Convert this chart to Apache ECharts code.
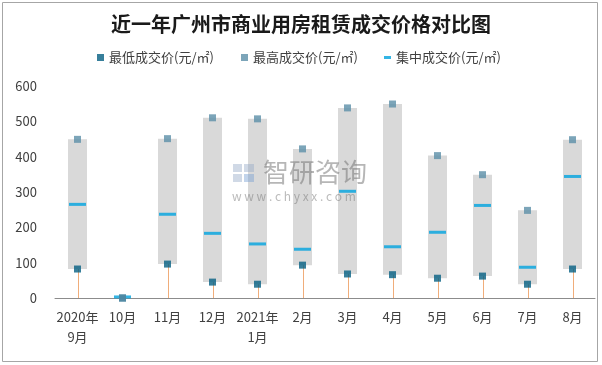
<!DOCTYPE html>
<html>
<head>
<meta charset="utf-8">
<script src="https://cdn.jsdelivr.net/npm/echarts@6/dist/echarts.min.js"></script>
<style>
html,body{margin:0;padding:0;background:#fff;}
#chart{width:602px;height:365px;}
</style>
</head>
<body>
<div id="chart"></div>
<script>
// ---- data ----
var categories = ['2020年\n9月','10月','11月','12月','2021年\n1月','2月','3月','4月','5月','6月','7月','8月'];
var lowPrice  = [82, 0, 96, 45, 39, 93, 68, 66, 56, 62, 39, 82];
var highPrice = [449, 0, 451, 510, 507, 422, 538, 549, 403, 349, 248, 448];
var midPrice  = [265, 3, 237, 183, 153, 138, 302, 145, 186, 262, 87, 344];
var yTicks = [0, 100, 200, 300, 400, 500, 600];

var nameLow = '最低成交价(元/㎡)';
var nameHigh = '最高成交价(元/㎡)';
var nameMid = '集中成交价(元/㎡)';

var rangeData = highPrice.map(function (h, i) { return h - lowPrice[i]; });
var dropData = lowPrice.map(function (v, i) { return [i, v]; });

var font = '"Noto Sans CJK SC", "Noto Sans", sans-serif';
var chart = echarts.init(document.getElementById('chart'), null, {renderer: 'canvas'});

var option = {
  backgroundColor: '#ffffff',
  animation: false,
  title: {
    text: '近一年广州市商业用房租赁成交价格对比图',
    left: 'center', top: 14, padding: 0,
    textStyle: {fontFamily: font, fontSize: 20, fontWeight: 'bold', color: '#1a1a1a'}
  },
  legend: [
    {data: [nameLow], left: 97, top: 51, padding: 0, itemWidth: 7, itemHeight: 7, icon: 'rect',
     textStyle: {fontFamily: font, fontSize: 13, color: '#404040'}},
    {data: [nameHigh], left: 241, top: 51, padding: 0, itemWidth: 7, itemHeight: 7, icon: 'rect',
     textStyle: {fontFamily: font, fontSize: 13, color: '#404040'}},
    {data: [nameMid], left: 384, top: 51, padding: 0, itemWidth: 7, itemHeight: 3, icon: 'rect',
     textStyle: {fontFamily: font, fontSize: 13, color: '#404040'}}
  ],
  grid: {left: 55, right: 7, top: 86, bottom: 67, containLabel: false},
  xAxis: {
    type: 'category', data: categories,
    axisLine: {show: true, lineStyle: {color: '#8c8c8c', width: 1}},
    axisTick: {show: false},
    axisLabel: {interval: 0, margin: 9, fontFamily: font, fontSize: 13, color: '#404040', lineHeight: 20}
  },
  yAxis: {
    type: 'value', min: yTicks[0], max: yTicks[yTicks.length - 1], interval: 100,
    axisLine: {show: false}, axisTick: {show: false}, splitLine: {show: false},
    axisLabel: {margin: 18, fontFamily: font, fontSize: 13, color: '#404040'}
  },
  graphic: [
    {type: 'rect', shape: {x: 2.5, y: 2.5, width: 595, height: 359}, style: {fill: 'none', stroke: '#a6a6a6', lineWidth: 1}, z: 100, silent: true},
    // watermark
    {type: 'rect', shape: {x: 233, y: 164, width: 9, height: 8}, style: {fill: 'rgba(150,170,200,0.45)'}, z: 100, silent: true},
    {type: 'rect', shape: {x: 244, y: 164, width: 10, height: 8}, style: {fill: 'rgba(150,170,200,0.45)'}, z: 100, silent: true},
    {type: 'rect', shape: {x: 233, y: 174, width: 9, height: 8}, style: {fill: 'rgba(150,170,200,0.45)'}, z: 100, silent: true},
    {type: 'rect', shape: {x: 244, y: 174, width: 10, height: 8}, style: {fill: 'rgba(120,160,210,0.45)'}, z: 100, silent: true},
    {type: 'text', left: 263, top: 159, z: 100, silent: true,
     style: {text: '智研咨询', fontFamily: font, fontSize: 26, fill: 'rgba(110,110,110,0.5)'}},
    {type: 'text', left: 232, top: 190, z: 100, silent: true,
     style: {text: 'w w w . c h y x x . c o m', fontFamily: font, fontSize: 12, fill: 'rgba(120,120,120,0.5)'}}
  ],
  series: [
    {type: 'bar', name: 'base', stack: 'r', data: lowPrice, barWidth: 19,
     itemStyle: {color: 'rgba(0,0,0,0)'}, silent: true, z: 1},
    {type: 'bar', name: 'range', stack: 'r', data: rangeData, barWidth: 19,
     itemStyle: {color: '#d9d9d9'}, silent: true, z: 1},
    {type: 'custom', name: 'drop', data: dropData, z: 2, silent: true,
     renderItem: function (params, api) {
       var p0 = api.coord([api.value(0), 0]);
       var p1 = api.coord([api.value(0), api.value(1)]);
       var x = Math.round(p0[0]) + 0.5;
       return {type: 'line', shape: {x1: x, y1: p0[1], x2: x, y2: p1[1]},
               style: {stroke: '#f0ad7a', lineWidth: 1}};
     }},
    {type: 'scatter', name: nameMid, data: midPrice, symbol: 'rect', symbolSize: [17, 3],
     itemStyle: {color: '#00a2de'}, z: 3},
    {type: 'scatter', name: nameLow, data: lowPrice, symbol: 'rect', symbolSize: 7,
     itemStyle: {color: '#055f82'}, z: 4},
    {type: 'scatter', name: nameHigh, data: highPrice, symbol: 'rect', symbolSize: 7,
     itemStyle: {color: '#5b8fa8'}, z: 5}
  ]
};
chart.setOption(option);
</script>
</body>
</html>
